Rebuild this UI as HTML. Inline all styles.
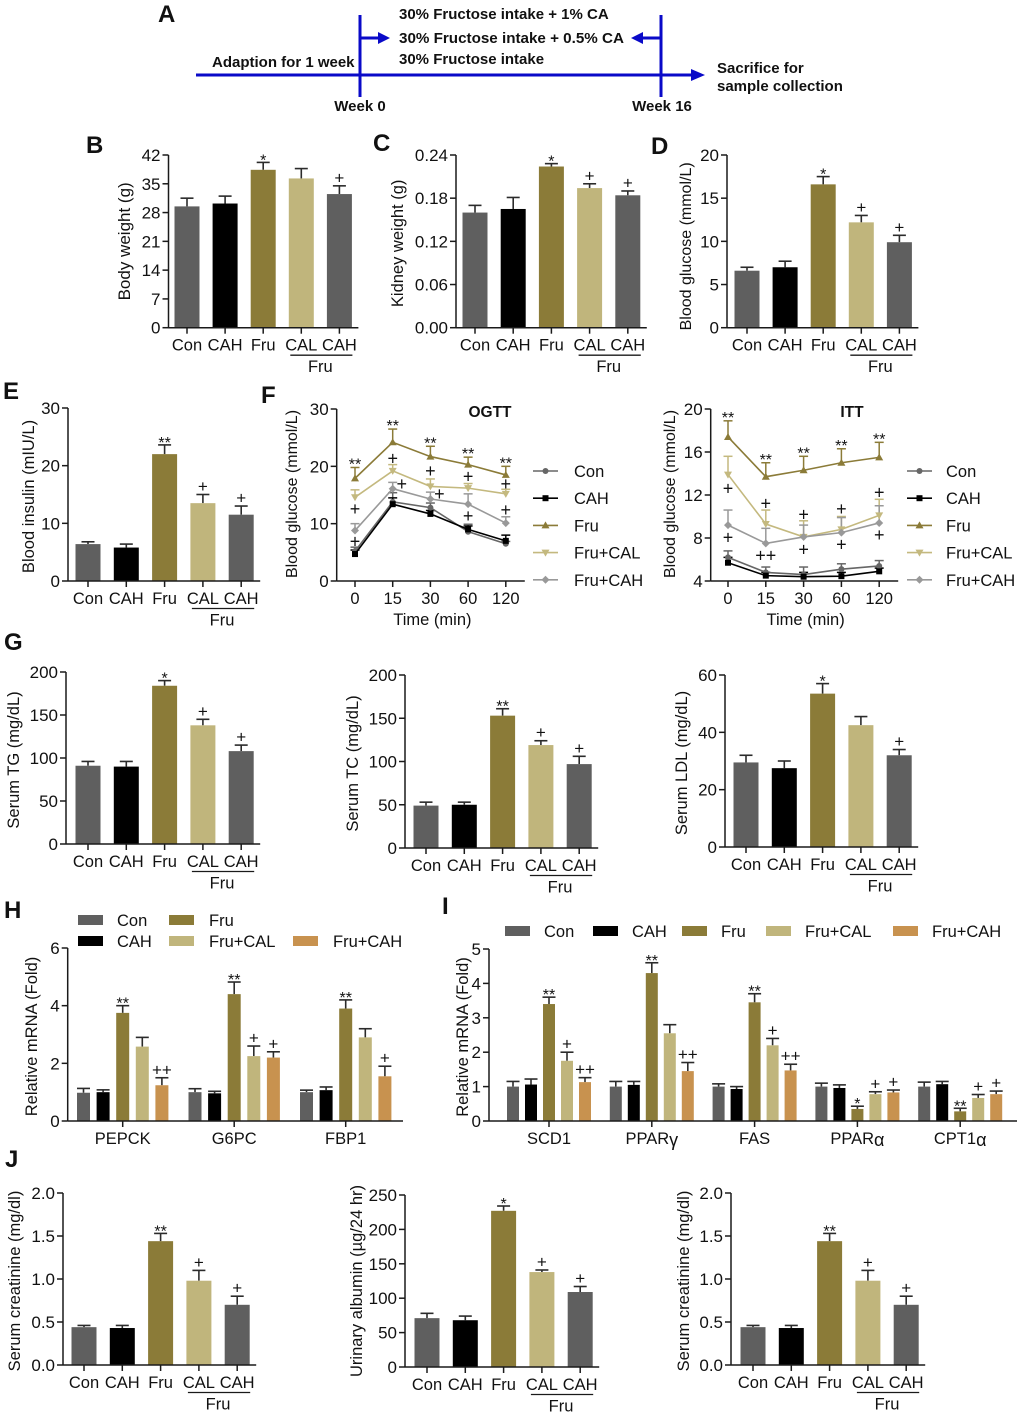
<!DOCTYPE html>
<html lang="en">
<head>
<meta charset="utf-8">
<title>Fructose intake study figure</title>
<style>
html,body{margin:0;padding:0;background:#fff;}
svg{display:block;}
text{font-family:"Liberation Sans",Arial,sans-serif;fill:#111;}
.bold{font-weight:bold;}
</style>
</head>
<body>
<svg id="figure" xmlns="http://www.w3.org/2000/svg" width="1020" height="1416" viewBox="0 0 1020 1416">
  <rect x="0" y="0" width="1020" height="1416" fill="#fff"/>
  <g>
    <line x1="196" y1="75" x2="692" y2="75" stroke="#0a0ac8" stroke-width="3"/>
    <polygon points="691,69 705,75 691,81" fill="#0a0ac8"/>
    <line x1="360" y1="15" x2="360" y2="97" stroke="#0a0ac8" stroke-width="3"/>
    <line x1="661" y1="15" x2="661" y2="97" stroke="#0a0ac8" stroke-width="3"/>
    <line x1="360" y1="38" x2="380" y2="38" stroke="#0a0ac8" stroke-width="3"/>
    <polygon points="378,32 390,38 378,44" fill="#0a0ac8"/>
    <line x1="661" y1="38" x2="641" y2="38" stroke="#0a0ac8" stroke-width="3"/>
    <polygon points="643,32 631,38 643,44" fill="#0a0ac8"/>
    <text class="bold" x="399" y="19" font-size="15">30% Fructose intake + 1% CA</text>
    <text class="bold" x="399" y="43" font-size="15.2">30% Fructose intake + 0.5% CA</text>
    <text class="bold" x="399" y="64" font-size="15">30% Fructose intake</text>
    <text class="bold" x="212" y="67" font-size="15">Adaption for 1 week</text>
    <text class="bold" x="360" y="111" font-size="15" text-anchor="middle">Week 0</text>
    <text class="bold" x="662" y="111" font-size="15" text-anchor="middle">Week 16</text>
    <text class="bold" x="717" y="73" font-size="15">Sacrifice for</text>
    <text class="bold" x="717" y="91" font-size="15">sample collection</text>
  </g>
  <text class="bold" x="158" y="22" font-size="24">A</text>
  <text class="bold" x="86" y="153" font-size="24">B</text>
  <text class="bold" x="373" y="151" font-size="24">C</text>
  <text class="bold" x="651" y="154" font-size="24">D</text>
  <text class="bold" x="3" y="399" font-size="24">E</text>
  <text class="bold" x="261" y="403" font-size="24">F</text>
  <text class="bold" x="4" y="650" font-size="24">G</text>
  <text class="bold" x="4" y="918" font-size="24">H</text>
  <text class="bold" x="442" y="914" font-size="24">I</text>
  <text class="bold" x="5" y="1167" font-size="24">J</text>
</svg>
<script>
// ---------- Shared categories ----------
const barCategories = ['Con', 'CAH', 'Fru', 'CAL', 'CAH'];
const timePoints = ['0', '15', '30', '60', '120'];

// ---------- Panel B ----------
const bodyWeightTicks = ['0', '7', '14', '21', '28', '35', '42'];
const bodyWeightValues = [29.5, 30.2, 38.4, 36.3, 32.5];
const bodyWeightErrors = [31.5, 32, 40.2, 38.7, 34.5];
const bodyWeightMarks = ['', '', '*', '', '+'];
// ---------- Panel C ----------
const kidneyTicks = ['0.00', '0.06', '0.12', '0.18', '0.24'];
const kidneyValues = [0.16, 0.165, 0.224, 0.194, 0.184];
const kidneyErrors = [0.17, 0.181, 0.228, 0.2, 0.19];
const kidneyMarks = ['', '', '*', '+', '+'];
// ---------- Panel D ----------
const glucoseTicks = ['0', '5', '10', '15', '20'];
const glucoseValues = [6.6, 7, 16.6, 12.2, 9.9];
const glucoseErrors = [7, 7.7, 17.5, 13, 10.7];
const glucoseMarks = ['', '', '*', '+', '+'];
// ---------- Panel E ----------
const insulinTicks = ['0', '10', '20', '30'];
const insulinValues = [6.4, 5.8, 22, 13.5, 11.5];
const insulinErrors = [6.8, 6.4, 23.6, 15, 13];
const insulinMarks = ['', '', '**', '+', '+'];
// ---------- Panel G ----------
const tgTicks = ['0', '50', '100', '150', '200'];
const tgValues = [91, 90, 184, 138, 108];
const tgErrors = [96, 96, 190, 145, 115];
const tgMarks = ['', '', '*', '+', '+'];
const tcTicks = ['0', '50', '100', '150', '200'];
const tcValues = [49, 50, 153, 119, 97];
const tcErrors = [53, 53, 161, 124, 106];
const tcMarks = ['', '', '**', '+', '+'];
const ldlTicks = ['0', '20', '40', '60'];
const ldlValues = [29.5, 27.5, 53.5, 42.5, 32];
const ldlErrors = [32, 30, 57, 45.5, 34];
const ldlMarks = ['', '', '*', '', '+'];
// ---------- Panel J ----------
const creatinineTicks = ['0.0', '0.5', '1.0', '1.5', '2.0'];
const creatinineValues = [0.44, 0.43, 1.44, 0.98, 0.7];
const creatinineErrors = [0.46, 0.46, 1.53, 1.1, 0.8];
const creatinineMarks = ['', '', '**', '+', '+'];
const albuminTicks = ['0', '50', '100', '150', '200', '250'];
const albuminValues = [71, 68, 227, 138, 109];
const albuminErrors = [78, 74, 234, 141, 117];
const albuminMarks = ['', '', '*', '+', '+'];

// ---------- Panel F (line charts) ----------
const lineSeriesNames = ['Con', 'CAH', 'Fru', 'Fru+CAL', 'Fru+CAH'];
const ogttTicks = ['0', '10', '20', '30'];
const ogttCon = [5.2, 13.8, 12.8, 8.6, 6.5];
const ogttCah = [4.7, 13.4, 11.7, 9.0, 7.0];
const ogttFru = [17.9, 24.2, 21.7, 20.3, 18.5];
const ogttCal = [14.6, 19.2, 16.5, 16.2, 15.2];
const ogttFruCah = [8.8, 16.1, 14.3, 13.4, 10.1];
const ogttConErr = [5.9, 15.4, 13.6, 9.9, 6.9];
const ogttCahErr = [5.4, 14.5, 12.3, 9.6, 8.0];
const ogttFruErr = [19.8, 26.5, 23.5, 21.6, 20.0];
const ogttCalErr = [15.9, 20.3, 17.8, 17.0, 16.0];
const ogttFruCahErr = [10.0, 17.2, 15.5, 15.2, 11.2];
const ogttPlusPoint = [0, 0, 1, 1, 2, 2, 3, 3, 4, 4];
const ogttPlusValue = [12.6, 6.9, 21.4, 16.9, 19.2, 15.2, 18.2, 11.3, 16.9, 12.4];
const ogttPlusNudge = [0, 0, 0, 1, 0, 1, 0, 0, 0, 0];

const ittTicks = ['4', '8', '12', '16', '20'];
const ittCon = [6.2, 4.8, 4.6, 5.1, 5.4];
const ittCah = [5.7, 4.5, 4.4, 4.45, 4.9];
const ittFru = [17.4, 13.7, 14.3, 15.0, 15.5];
const ittCal = [13.9, 9.3, 8.1, 8.8, 10.1];
const ittFruCah = [9.2, 7.5, 8.1, 8.5, 9.4];
const ittConErr = [6.8, 5.3, 5.3, 5.6, 5.9];
const ittCahErr = [6.2, 4.8, 4.8, 4.8, 5.2];
const ittFruErr = [18.9, 15.0, 15.6, 16.3, 16.9];
const ittCalErr = [15.6, 10.6, 9.6, 10.0, 11.6];
const ittFruCahErr = [10.6, 8.9, 9.2, 9.9, 11.0];
const ittPlusPoint = [0, 0, 1, 1, 2, 2, 3, 3, 4, 4];
const ittPlusValue = [12.6, 8.06, 11.2, 6.35, 10.2, 6.95, 10.7, 7.4, 12.25, 8.3];
const ittPlusLabel = ['+', '+', '+', '++', '+', '+', '+', '+', '+', '+'];

// ---------- Panel H (grouped bars) ----------
const hGenes = ['PEPCK', 'G6PC', 'FBP1'];
const hTicks = ['0', '2', '4', '6'];
const hCon = [0.98, 1.0, 1.0];
const hCah = [1.0, 0.96, 1.07];
const hFru = [3.75, 4.4, 3.9];
const hCal = [2.58, 2.25, 2.9];
const hFruCah = [1.24, 2.2, 1.55];
const hConErr = [1.13, 1.12, 1.07];
const hCahErr = [1.08, 1.03, 1.18];
const hFruErr = [4.0, 4.82, 4.2];
const hCalErr = [2.9, 2.6, 3.2];
const hFruCahErr = [1.5, 2.4, 1.9];
const hFruMarks = ['**', '**', '**'];
const hCalMarks = ['', '+', ''];
const hFruCahMarks = ['++', '+', '+'];

// ---------- Panel I (grouped bars) ----------
const iGenes = ['SCD1', 'PPAR', 'FAS', 'PPAR', 'CPT1'];
const iGeneSuffix = ['', 'γ', '', 'α', 'α'];
const iTicks = ['0', '1', '2', '3', '4', '5'];
const iCon = [1.0, 1.0, 1.0, 1.0, 1.0];
const iCah = [1.06, 1.05, 0.93, 0.96, 1.07];
const iFru = [3.4, 4.3, 3.45, 0.35, 0.28];
const iCal = [1.75, 2.55, 2.2, 0.78, 0.67];
const iFruCah = [1.13, 1.45, 1.47, 0.83, 0.78];
const iConErr = [1.15, 1.15, 1.08, 1.1, 1.13];
const iCahErr = [1.22, 1.15, 1.0, 1.05, 1.15];
const iFruErr = [3.6, 4.6, 3.7, 0.43, 0.37];
const iCalErr = [2.0, 2.8, 2.4, 0.85, 0.77];
const iFruCahErr = [1.26, 1.7, 1.65, 0.9, 0.87];
const iFruMarks = ['**', '**', '**', '*', '**'];
const iCalMarks = ['+', '', '+', '+', '+'];
const iFruCahMarks = ['++', '++', '++', '+', '+'];

// ---------- Colours ----------
const GREY = '#5f5f5f', BLACK = '#000000', OLIVE = '#8b7b38', KHAKI = '#c0b57c', ORANGE = '#c8924f';
const barFill = [GREY, BLACK, OLIVE, KHAKI, GREY];
const groupFill = [GREY, BLACK, OLIVE, KHAKI, ORANGE];
const lineColor = ['#666666', '#000000', '#8b7b38', '#c4b97f', '#999999'];
const INK = '#1a1a1a';
const ERR = '#2b2b2b';

const NS = 'http://www.w3.org/2000/svg';
const root = document.getElementById('figure');

function mk(parent, tag, attrs, content) {
  const node = document.createElementNS(NS, tag);
  for (const k in attrs) node.setAttribute(k, attrs[k]);
  if (content !== undefined) node.textContent = content;
  parent.appendChild(node);
  return node;
}

function makeScale(ticks, top, bottom) {
  const lo = Number(ticks[0]);
  const hi = Number(ticks[ticks.length - 1]);
  return function (v) { return bottom - (v - lo) / (hi - lo) * (bottom - top); };
}

function drawYAxis(g, name, ticks, y, x0, top, bottom, title, titleX, titleSize, titleDy) {
  const axis = mk(g, 'line', { x1: x0, y1: top, x2: x0, y2: bottom, stroke: INK, 'stroke-width': 1.5 });
  
  
  ticks.forEach(function (t) {
    const py = y(Number(t));
    const tk = mk(g, 'line', { x1: x0 - 6, y1: py, x2: x0, y2: py, stroke: INK, 'stroke-width': 1.5 });
    
    
    const lb = mk(g, 'text', { x: x0 - 8, y: py + 6, 'font-size': 17, 'text-anchor': 'end' }, t);
    
    
  });
  const cy = (top + bottom) / 2 + 2 + (titleDy || 0);
  const tt = mk(g, 'text', { x: titleX, y: cy, 'font-size': titleSize || 16.5, 'text-anchor': 'middle', transform: 'rotate(-90 ' + titleX + ' ' + cy + ')' }, title);
  
  
}

function drawMark(g, name, label, cx, capY) {
  if (!label) return;
  const isStar = label.charAt(0) === '*';
  const my = isStar ? capY + 3 : capY - 2.5;
  const mt = mk(g, 'text', { x: cx, y: my, 'font-size': isStar ? 16 : 17, 'text-anchor': 'middle' }, label);
  
  
}

function drawBar(g, name, cx, w, value, err, fill, y, bottom) {
  const ep = y(err);
  const stem = mk(g, 'line', { x1: cx, y1: y(value), x2: cx, y2: ep, stroke: ERR, 'stroke-width': 1.6 });
  
  
  const cap = mk(g, 'line', { x1: cx - 6.5, y1: ep, x2: cx + 6.5, y2: ep, stroke: ERR, 'stroke-width': 1.6 });
  
  
  const bar = mk(g, 'rect', { x: cx - w / 2, y: y(value), width: w, height: bottom - y(value), fill: fill });
  
  
  return ep;
}

function barPanel(name, p, ticks, values, errors, marks, title) {
  const g = mk(root, 'g', {});
  
  
  const y = makeScale(ticks, p.top, p.bottom);
  const x = function (i) { return p.first + i * p.step; };
  values.forEach(function (v, i) {
    const capY = drawBar(g, name + '-' + i, x(i), 25, v, errors[i], barFill[i], y, p.bottom);
    drawMark(g, name, marks[i], x(i), capY);
  });
  drawYAxis(g, name, ticks, y, p.left, p.top, p.bottom, title, p.titleX, p.titleSize, p.titleDy);
  const base = mk(g, 'line', { x1: p.left, y1: p.bottom, x2: x(4) + 19, y2: p.bottom, stroke: INK, 'stroke-width': 1.5 });
  
  
  barCategories.forEach(function (c, i) {
    const tk = mk(g, 'line', { x1: x(i), y1: p.bottom, x2: x(i), y2: p.bottom + 6, stroke: INK, 'stroke-width': 1.5 });
    
    
    const lb = mk(g, 'text', { x: x(i), y: p.bottom + 23, 'font-size': 16.5, 'text-anchor': 'middle' }, c);
    
    
  });
  const rule = mk(g, 'line', { x1: x(3) - 11, y1: p.bottom + 27.5, x2: x(4) + 13, y2: p.bottom + 27.5, stroke: INK, 'stroke-width': 1.3 });
  
  
  const fru = mk(g, 'text', { x: (x(3) + x(4)) / 2, y: p.bottom + 44.5, 'font-size': 16.5, 'text-anchor': 'middle' }, 'Fru');
  
  
}

barPanel('body-weight', { left: 168.5, top: 155, bottom: 327.7, first: 187, step: 38.1, titleX: 130, titleSize: 17, titleDy: -2 }, bodyWeightTicks, bodyWeightValues, bodyWeightErrors, bodyWeightMarks, 'Body weight (g)');
barPanel('kidney-weight', { left: 456, top: 155, bottom: 327.7, first: 475, step: 38.2, titleX: 403 }, kidneyTicks, kidneyValues, kidneyErrors, kidneyMarks, 'Kidney weight (g)');
barPanel('blood-glucose', { left: 727, top: 155, bottom: 327.7, first: 747, step: 38.1, titleX: 691, titleSize: 16, titleDy: 3 }, glucoseTicks, glucoseValues, glucoseErrors, glucoseMarks, 'Blood glucose (mmol/L)');
barPanel('blood-insulin', { left: 68, top: 408, bottom: 581, first: 88, step: 38.3, titleX: 34 }, insulinTicks, insulinValues, insulinErrors, insulinMarks, 'Blood insulin (mIU/L)');
barPanel('serum-tg', { left: 66, top: 672, bottom: 844, first: 88, step: 38.3, titleX: 19 }, tgTicks, tgValues, tgErrors, tgMarks, 'Serum TG (mg/dL)');
barPanel('serum-tc', { left: 405, top: 675, bottom: 848, first: 426, step: 38.3, titleX: 358 }, tcTicks, tcValues, tcErrors, tcMarks, 'Serum TC (mg/dL)');
barPanel('serum-ldl', { left: 725, top: 675, bottom: 847, first: 746, step: 38.3, titleX: 687 }, ldlTicks, ldlValues, ldlErrors, ldlMarks, 'Serum LDL (mg/dL)');
barPanel('serum-creatinine-left', { left: 63, top: 1193, bottom: 1365, first: 84, step: 38.3, titleX: 20 }, creatinineTicks, creatinineValues, creatinineErrors, creatinineMarks, 'Serum creatinine (mg/dl)');
barPanel('urinary-albumin', { left: 405, top: 1195, bottom: 1367, first: 427, step: 38.3, titleX: 362, titleDy: -2 }, albuminTicks, albuminValues, albuminErrors, albuminMarks, 'Urinary albumin (µg/24 hr)');
barPanel('serum-creatinine-right', { left: 731, top: 1193, bottom: 1365, first: 753, step: 38.3, titleX: 689 }, creatinineTicks, creatinineValues, creatinineErrors, creatinineMarks, 'Serum creatinine (mg/dl)');

function marker(g, name, kind, cx, cy, color) {
  let m;
  if (kind === 0) {
    m = mk(g, 'circle', { cx: cx, cy: cy, r: 3, fill: color });
  } else if (kind === 1) {
    m = mk(g, 'rect', { x: cx - 3, y: cy - 3, width: 6, height: 6, fill: color });
  } else {
    const shapes = [[], [], [[0, -4], [4, 3], [-4, 3]], [[0, 4], [4, -3], [-4, -3]], [[0, -4], [4, 0], [0, 4], [-4, 0]]];
    const pts = shapes[kind].map(function (o) { return (cx + o[0]) + ',' + (cy + o[1]); }).join(' ');
    m = mk(g, 'polygon', { points: pts, fill: color });
  }
  
  
}

function linePanel(name, p, ticks, series, errors, plusPoint, plusValue, plusLabel, plusNudge) {
  const g = mk(root, 'g', {});
  
  
  const y = makeScale(ticks, p.top, p.bottom);
  const x = function (i) { return p.first + i * p.step; };
  drawYAxis(g, name, ticks, y, p.left, p.top, p.bottom, p.yTitle, p.titleX, 16, -3);
  const base = mk(g, 'line', { x1: p.left, y1: p.bottom, x2: x(4) + 19, y2: p.bottom, stroke: INK, 'stroke-width': 1.5 });
  
  
  timePoints.forEach(function (t, i) {
    const tk = mk(g, 'line', { x1: x(i), y1: p.bottom, x2: x(i), y2: p.bottom + 6, stroke: INK, 'stroke-width': 1.5 });
    
    
    const lb = mk(g, 'text', { x: x(i), y: p.bottom + 23, 'font-size': 16.5, 'text-anchor': 'middle' }, t);
    
    
  });
  const xt = mk(g, 'text', { x: (x(0) + x(4)) / 2 + 2, y: p.bottom + 44, 'font-size': 16.5, 'text-anchor': 'middle' }, 'Time (min)');
  
  
  const title = mk(g, 'text', { x: p.titleCx, y: 417, 'font-size': 15.5, 'font-weight': 'bold', 'text-anchor': 'middle' }, name.toUpperCase());
  
  

  series.forEach(function (vals, s) {
    const col = lineColor[s];
    vals.forEach(function (v, i) {
      const st = mk(g, 'line', { x1: x(i), y1: y(v), x2: x(i), y2: y(errors[s][i]), stroke: col, 'stroke-width': 1.5 });
      
      
      const cp = mk(g, 'line', { x1: x(i) - 4.5, y1: y(errors[s][i]), x2: x(i) + 4.5, y2: y(errors[s][i]), stroke: col, 'stroke-width': 1.5 });
      
      
    });
  });
  series.forEach(function (vals, s) {
    const col = lineColor[s];
    const pts = vals.map(function (v, i) { return x(i) + ',' + y(v); }).join(' ');
    const pl = mk(g, 'polyline', { points: pts, fill: 'none', stroke: col, 'stroke-width': 1.6 });
    
    
    vals.forEach(function (v, i) { marker(g, name + '-point', s, x(i), y(v), col); });
  });
  errors[2].forEach(function (e, i) {
    drawMark(g, name, '**', x(i), y(e) - 1);
  });
  plusPoint.forEach(function (pi, k) {
    const nudge = plusNudge ? plusNudge[k] * 9 : 0;
    const label = plusLabel ? plusLabel[k] : '+';
    const tx = mk(g, 'text', { x: x(pi) + nudge, y: y(plusValue[k]) + 6, 'font-size': 18, 'text-anchor': 'middle' }, label);
    
    
  });
  lineSeriesNames.forEach(function (n, s) {
    const ly = p.legendY + s * 27.2;
    const ln = mk(g, 'line', { x1: p.legendX, y1: ly, x2: p.legendX + 25, y2: ly, stroke: lineColor[s], 'stroke-width': 1.6 });
    
    
    marker(g, name + '-legend', s, p.legendX + 12.5, ly, lineColor[s]);
    const lt = mk(g, 'text', { x: p.legendX + p.legendGap, y: ly + 6, 'font-size': 16.5 }, n);
    
    
  });
}

linePanel('ogtt', { left: 336.7, top: 409, bottom: 581, first: 355, step: 37.7, titleX: 297, yTitle: 'Blood glucose (mmol/L)', titleCx: 490, legendX: 533, legendGap: 41, legendY: 471 },
  ogttTicks, [ogttCon, ogttCah, ogttFru, ogttCal, ogttFruCah], [ogttConErr, ogttCahErr, ogttFruErr, ogttCalErr, ogttFruCahErr], ogttPlusPoint, ogttPlusValue, null, ogttPlusNudge);
linePanel('itt', { left: 710.7, top: 409, bottom: 581, first: 728, step: 37.8, titleX: 675, yTitle: 'Blood glucose (mmol/L)', titleCx: 852, legendX: 907, legendGap: 39, legendY: 471 },
  ittTicks, [ittCon, ittCah, ittFru, ittCal, ittFruCah], [ittConErr, ittCahErr, ittFruErr, ittCalErr, ittFruCahErr], ittPlusPoint, ittPlusValue, ittPlusLabel, null);

function groupPanel(name, p, ticks, genes, suffix, vals, errs, marks) {
  const g = mk(root, 'g', {});
  
  
  const y = makeScale(ticks, p.top, p.bottom);
  const center = function (gi) { return p.firstGroup + gi * p.groupStep; };
  genes.forEach(function (gene, gi) {
    vals.forEach(function (col, s) {
      const cx = center(gi) + (s - 2) * p.barStep;
      const capY = drawBar(g, name + '-' + gene.toLowerCase() + '-' + s, cx, p.barW, col[gi], errs[s][gi], groupFill[s], y, p.bottom);
      if (marks[s]) drawMark(g, name, marks[s][gi], cx, capY);
    });
    const tk = mk(g, 'line', { x1: center(gi), y1: p.bottom, x2: center(gi), y2: p.bottom + 6, stroke: INK, 'stroke-width': 1.5 });
    
    
    const lb = mk(g, 'text', { x: center(gi), y: p.bottom + 23, 'font-size': 16.5, 'text-anchor': 'middle' }, gene);
    
    
    if (suffix && suffix[gi]) {
      const sp = mk(lb, 'tspan', { 'font-size': 18, dy: 2 }, suffix[gi]);
      
      
    }
  });
  drawYAxis(g, name, ticks, y, p.left, p.top, p.bottom, 'Relative mRNA (Fold)', p.titleX);
  const base = mk(g, 'line', { x1: p.left, y1: p.bottom, x2: p.right, y2: p.bottom, stroke: INK, 'stroke-width': 1.5 });
  
  
}

groupPanel('liver-mrna', { left: 67.7, right: 403, top: 948, bottom: 1121, firstGroup: 122.7, groupStep: 111.5, barStep: 19.6, barW: 13, titleX: 37 },
  hTicks, hGenes, null, [hCon, hCah, hFru, hCal, hFruCah], [hConErr, hCahErr, hFruErr, hCalErr, hFruCahErr], [null, null, hFruMarks, hCalMarks, hFruCahMarks]);
groupPanel('kidney-mrna', { left: 489, right: 1017, top: 949, bottom: 1121, firstGroup: 549, groupStep: 102.8, barStep: 18, barW: 12, titleX: 468 },
  iTicks, iGenes, iGeneSuffix, [iCon, iCah, iFru, iCal, iFruCah], [iConErr, iCahErr, iFruErr, iCalErr, iFruCahErr], [null, null, iFruMarks, iCalMarks, iFruCahMarks]);

function legendEntry(name, swatchX, cy, textX, color, label) {
  const sw = mk(root, 'rect', { x: swatchX, y: cy - 5, width: 25, height: 10, fill: color });
  
  
  const tx = mk(root, 'text', { x: textX, y: cy + 6, 'font-size': 16.5 }, label);
  
  
}
legendEntry('liver-mrna', 78, 920, 117, GREY, 'Con');
legendEntry('liver-mrna', 78, 941, 117, BLACK, 'CAH');
legendEntry('liver-mrna', 169, 920, 209, OLIVE, 'Fru');
legendEntry('liver-mrna', 169, 941, 209, KHAKI, 'Fru+CAL');
legendEntry('liver-mrna', 293, 941, 333, ORANGE, 'Fru+CAH');
legendEntry('kidney-mrna', 505, 931, 544, GREY, 'Con');
legendEntry('kidney-mrna', 593, 931, 632, BLACK, 'CAH');
legendEntry('kidney-mrna', 682, 931, 721, OLIVE, 'Fru');
legendEntry('kidney-mrna', 766, 931, 805, KHAKI, 'Fru+CAL');
legendEntry('kidney-mrna', 893, 931, 932, ORANGE, 'Fru+CAH');
</script>
</body>
</html>
